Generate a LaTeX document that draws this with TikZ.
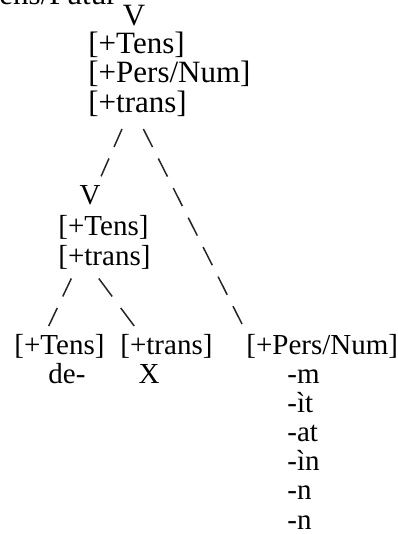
\documentclass[tikz,border=0pt]{standalone}
\usepackage{fontspec}
\setmainfont{Liberation Serif}

\tikzset{
  lbl/.style={inner sep=0pt, font=\fontsize{14.5}{15}\selectfont},
  lblbig/.style={inner sep=0pt, font=\fontsize{15.5}{16}\selectfont},
  branch/.style={line width=0.75pt, black!85}
}

\begin{document}
\begin{tikzpicture}[x=0.5pt, y=-0.5pt]

\useasboundingbox (0,0) rectangle (397,534);

%% ---- Riga tagliata in alto ----
\node[lblbig, anchor=base east] (cut) at (117,5) {sens/Futur};

%% ---- Nodo V superiore ----
\node[lblbig, anchor=base] (tv) at (134,25.5) {V};
\node[lblbig, anchor=base west] (ttens)  at (88,54)  {[+Tens]};
\node[lblbig, anchor=base west] (tpers)  at (88,83)    {[+Pers/Num]};
\node[lblbig, anchor=base west] (ttrans) at (88,112.5) {[+trans]};

%% ---- Nodo V intermedio ----
\node[lbl, anchor=base] (mv) at (90,205) {V};
\node[lbl, anchor=base west] (mtens)  at (58,235.5) {[+Tens]};
\node[lbl, anchor=base west] (mtrans) at (58,265.5) {[+trans]};

%% ---- Foglie ----
\node[lbl, anchor=base west] (btens)  at (14,354)  {[+Tens]};
\node[lbl, anchor=base]      (bde)    at (67,383)  {de-};
\node[lbl, anchor=base west] (btrans) at (120,354) {[+trans]};
\node[lbl, anchor=base]      (bx)     at (149,383) {X};
\node[lbl, anchor=base west] (bpers)  at (246,354) {[+Pers/Num]};
\foreach \s [count=\i] in {-m,-ìt,-at,-ìn,-n,-n}
  \node[lbl, anchor=base west] (suf\i) at (287,{383+29.2*(\i-1)}) {\s};

%% ---- Estremi dei rami ----
\coordinate (ul-a) at (122,129);    \coordinate (ul-b) at (101,176.5);
\coordinate (ur-a) at (143.4,129);  \coordinate (ur-b) at (242,324);
\coordinate (ll-a) at (71.3,278.5); \coordinate (ll-b) at (48.7,326);
\coordinate (lr-a) at (98.8,278.5); \coordinate (lr-b) at (134.2,326);

%% ---- Rami tratteggiati ----
\draw[branch, dash pattern=on 9.8pt off 6.3pt]   (ul-a) -- (ul-b);
\draw[branch, dash pattern=on 10.1pt off 6.45pt] (ur-a) -- (ur-b);
\draw[branch, dash pattern=on 9.96pt off 6.37pt] (ll-a) -- (ll-b);
\draw[branch, dash pattern=on 11.2pt off 7.2pt]  (lr-a) -- (lr-b);

\end{tikzpicture}
\end{document}
